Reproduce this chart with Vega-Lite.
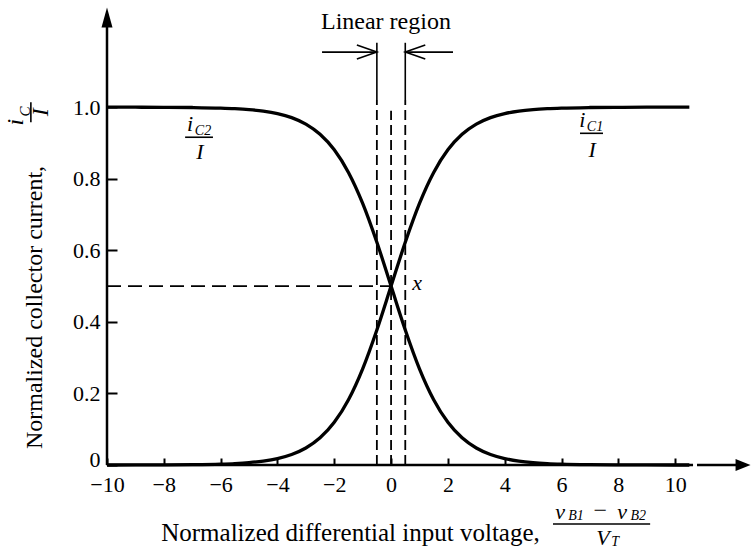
{
  "$schema": "https://vega.github.io/schema/vega-lite/v6.json",
  "width": 642,
  "height": 458,
  "autosize": {"type": "none"},
  "padding": {"left": 107, "top": 7, "right": 3, "bottom": 87},
  "background": "white",
  "config": {"view": {"stroke": null}, "font": "Liberation Serif"},
  "datasets": {
    "curves": [
      {"x": -10, "y": 0.0000, "c": "iC1"}, {"x": -9, "y": 0.0001, "c": "iC1"},
      {"x": -8, "y": 0.0003, "c": "iC1"}, {"x": -7, "y": 0.0009, "c": "iC1"},
      {"x": -6, "y": 0.0025, "c": "iC1"}, {"x": -5.5, "y": 0.0041, "c": "iC1"},
      {"x": -5, "y": 0.0067, "c": "iC1"}, {"x": -4.5, "y": 0.0110, "c": "iC1"},
      {"x": -4, "y": 0.0180, "c": "iC1"}, {"x": -3.5, "y": 0.0293, "c": "iC1"},
      {"x": -3, "y": 0.0474, "c": "iC1"}, {"x": -2.5, "y": 0.0759, "c": "iC1"},
      {"x": -2, "y": 0.1192, "c": "iC1"}, {"x": -1.5, "y": 0.1824, "c": "iC1"},
      {"x": -1, "y": 0.2689, "c": "iC1"}, {"x": -0.5, "y": 0.3775, "c": "iC1"},
      {"x": 0, "y": 0.5000, "c": "iC1"}, {"x": 0.5, "y": 0.6225, "c": "iC1"},
      {"x": 1, "y": 0.7311, "c": "iC1"}, {"x": 1.5, "y": 0.8176, "c": "iC1"},
      {"x": 2, "y": 0.8808, "c": "iC1"}, {"x": 2.5, "y": 0.9241, "c": "iC1"},
      {"x": 3, "y": 0.9526, "c": "iC1"}, {"x": 3.5, "y": 0.9707, "c": "iC1"},
      {"x": 4, "y": 0.9820, "c": "iC1"}, {"x": 4.5, "y": 0.9890, "c": "iC1"},
      {"x": 5, "y": 0.9933, "c": "iC1"}, {"x": 5.5, "y": 0.9959, "c": "iC1"},
      {"x": 6, "y": 0.9975, "c": "iC1"}, {"x": 7, "y": 0.9991, "c": "iC1"},
      {"x": 8, "y": 0.9997, "c": "iC1"}, {"x": 9, "y": 0.9999, "c": "iC1"},
      {"x": 10, "y": 1.0000, "c": "iC1"}, {"x": 10.5, "y": 1.0000, "c": "iC1"},
      {"x": -10, "y": 1.0000, "c": "iC2"}, {"x": -9, "y": 0.9999, "c": "iC2"},
      {"x": -8, "y": 0.9997, "c": "iC2"}, {"x": -7, "y": 0.9991, "c": "iC2"},
      {"x": -6, "y": 0.9975, "c": "iC2"}, {"x": -5.5, "y": 0.9959, "c": "iC2"},
      {"x": -5, "y": 0.9933, "c": "iC2"}, {"x": -4.5, "y": 0.9890, "c": "iC2"},
      {"x": -4, "y": 0.9820, "c": "iC2"}, {"x": -3.5, "y": 0.9707, "c": "iC2"},
      {"x": -3, "y": 0.9526, "c": "iC2"}, {"x": -2.5, "y": 0.9241, "c": "iC2"},
      {"x": -2, "y": 0.8808, "c": "iC2"}, {"x": -1.5, "y": 0.8176, "c": "iC2"},
      {"x": -1, "y": 0.7311, "c": "iC2"}, {"x": -0.5, "y": 0.6225, "c": "iC2"},
      {"x": 0, "y": 0.5000, "c": "iC2"}, {"x": 0.5, "y": 0.3775, "c": "iC2"},
      {"x": 1, "y": 0.2689, "c": "iC2"}, {"x": 1.5, "y": 0.1824, "c": "iC2"},
      {"x": 2, "y": 0.1192, "c": "iC2"}, {"x": 2.5, "y": 0.0759, "c": "iC2"},
      {"x": 3, "y": 0.0474, "c": "iC2"}, {"x": 3.5, "y": 0.0293, "c": "iC2"},
      {"x": 4, "y": 0.0180, "c": "iC2"}, {"x": 4.5, "y": 0.0110, "c": "iC2"},
      {"x": 5, "y": 0.0067, "c": "iC2"}, {"x": 5.5, "y": 0.0041, "c": "iC2"},
      {"x": 6, "y": 0.0025, "c": "iC2"}, {"x": 7, "y": 0.0009, "c": "iC2"},
      {"x": 8, "y": 0.0003, "c": "iC2"}, {"x": 9, "y": 0.0001, "c": "iC2"},
      {"x": 10, "y": 0.0000, "c": "iC2"}, {"x": 10.5, "y": 0.0000, "c": "iC2"}
    ],
    "axisLines": [
      {"x": -10, "y": 0, "x2": 10.63, "y2": 0},
      {"x": 10.77, "y": 0, "x2": 12.2, "y2": 0},
      {"x": -10, "y": 0, "x2": -10, "y2": 1.245}
    ],
    "dashH": [{"x": -10, "y": 0.5, "x2": 0, "y2": 0.5}],
    "dashV": [
      {"x": -0.5, "y": 0, "x2": -0.5, "y2": 1.02},
      {"x": 0, "y": 0, "x2": 0, "y2": 0.99},
      {"x": 0.5, "y": 0, "x2": 0.5, "y2": 1.02}
    ],
    "thin": [
      {"x": -0.5, "y": 1.02, "x2": -0.5, "y2": 1.18},
      {"x": 0.5, "y": 1.02, "x2": 0.5, "y2": 1.18},
      {"x": -2.43, "y": 1.154, "x2": -0.5, "y2": 1.154},
      {"x": 2.18, "y": 1.154, "x2": 0.5, "y2": 1.154},
      {"x": -7.25, "y": 0.916, "x2": -6.27, "y2": 0.916},
      {"x": 6.65, "y": 0.927, "x2": 7.46, "y2": 0.927},
      {"x": 5.70, "y": -0.165, "x2": 9.12, "y2": -0.165},
      {"x": -12.68, "y": 0.958, "x2": -12.68, "y2": 1.014}
    ],
    "headRight": [{"x": -0.5, "y": 1.154}],
    "headLeft": [{"x": 0.5, "y": 1.154}],
    "tipUp": [{"x": -10, "y": 1.251}],
    "tipRight": [{"x": 12.39, "y": 0}],
    "plain": [
      {"x": -0.18, "y": 1.237, "t": "Linear region"},
      {"x": 7.36, "y": -0.128, "t": "−"}
    ],
    "italic": [
      {"x": -7.08, "y": 0.953, "t": "i"},
      {"x": -6.73, "y": 0.874, "t": "I"},
      {"x": 6.73, "y": 0.964, "t": "i"},
      {"x": 7.08, "y": 0.88, "t": "I"},
      {"x": 0.92, "y": 0.508, "t": "x"},
      {"x": 5.95, "y": -0.131, "t": "v"},
      {"x": 8.13, "y": -0.131, "t": "v"},
      {"x": 7.46, "y": -0.203, "t": "V"}
    ],
    "subs": [
      {"x": -6.62, "y": 0.933, "t": "C2"},
      {"x": 7.18, "y": 0.944, "t": "C1"},
      {"x": 6.51, "y": -0.142, "t": "B1"},
      {"x": 8.70, "y": -0.142, "t": "B2"},
      {"x": 7.89, "y": -0.214, "t": "T"}
    ],
    "rotItalic": [
      {"x": -13.22, "y": 0.958, "t": "i"},
      {"x": -12.33, "y": 0.986, "t": "I"}
    ],
    "rotSubs": [{"x": -12.88, "y": 0.988, "t": "C"}]
  },
  "encoding": {
    "x": {
      "field": "x", "type": "quantitative",
      "scale": {"domain": [-10, 12.6], "nice": false, "zero": false},
      "axis": {
        "values": [-10, -8, -6, -4, -2, 0, 2, 4, 6, 8, 10],
        "format": "d", "domain": false, "grid": false,
        "tickSize": -7, "tickWidth": 2, "tickColor": "black",
        "labelFont": "Liberation Serif", "labelFontSize": 22, "labelColor": "black",
        "labelPadding": 16, "labelFlush": false, "labelOverlap": false,
        "title": "Normalized differential input voltage,",
        "titleFont": "Liberation Serif", "titleFontSize": 25, "titleFontWeight": "normal",
        "titleColor": "black", "titleX": 243, "titleY": 75,
        "titleAlign": "center", "titleBaseline": "alphabetic"
      }
    },
    "y": {
      "field": "y", "type": "quantitative",
      "scale": {"domain": [0, 1.28], "nice": false, "zero": false},
      "axis": {
        "values": [0, 0.2, 0.4, 0.6, 0.8, 1.0],
        "labelExpr": "datum.value == 0 ? '0' : format(datum.value, '.1f')",
        "domain": false, "grid": false,
        "tickSize": -10, "tickWidth": 2, "tickColor": "black",
        "labelFont": "Liberation Serif", "labelFontSize": 22, "labelColor": "black",
        "labelPadding": 17, "labelFlush": false, "labelOverlap": false,
        "labelOffset": {"condition": {"test": "datum.value == 0", "value": -6}, "value": 0},
        "title": "Normalized collector current,",
        "titleFont": "Liberation Serif", "titleFontSize": 24, "titleFontWeight": "normal",
        "titleColor": "black", "titleX": -73, "titleY": 300, "titleAngle": 270,
        "titleAlign": "center", "titleBaseline": "middle"
      }
    }
  },
  "layer": [
    {
      "data": {"name": "curves"},
      "mark": {"type": "line", "color": "black", "strokeWidth": 3.3, "interpolate": "monotone"},
      "encoding": {"detail": {"field": "c"}}
    },
    {
      "data": {"name": "axisLines"},
      "mark": {"type": "rule", "color": "black", "strokeWidth": 2.5},
      "encoding": {"x2": {"field": "x2"}, "y2": {"field": "y2"}}
    },
    {
      "data": {"name": "dashH"},
      "mark": {"type": "rule", "color": "black", "strokeWidth": 1.8, "strokeDash": [14, 7]},
      "encoding": {"x2": {"field": "x2"}, "y2": {"field": "y2"}}
    },
    {
      "data": {"name": "dashV"},
      "mark": {"type": "rule", "color": "black", "strokeWidth": 1.8, "strokeDash": [10, 5]},
      "encoding": {"x2": {"field": "x2"}, "y2": {"field": "y2"}}
    },
    {
      "data": {"name": "thin"},
      "mark": {"type": "rule", "color": "black", "strokeWidth": 1.6},
      "encoding": {"x2": {"field": "x2"}, "y2": {"field": "y2"}}
    },
    {
      "data": {"name": "headRight"},
      "mark": {"type": "point", "shape": "M-1,-0.35L0,0L-1,0.35", "filled": false, "stroke": "black", "strokeWidth": 1.6, "size": 1600, "opacity": 1}
    },
    {
      "data": {"name": "headLeft"},
      "mark": {"type": "point", "shape": "M1,-0.35L0,0L1,0.35", "filled": false, "stroke": "black", "strokeWidth": 1.6, "size": 1600, "opacity": 1}
    },
    {
      "data": {"name": "tipUp"},
      "mark": {"type": "point", "shape": "M0,-1L0.55,1L-0.55,1Z", "filled": true, "color": "black", "size": 400, "opacity": 1}
    },
    {
      "data": {"name": "tipRight"},
      "mark": {"type": "point", "shape": "M1,0L-1,0.8L-1,-0.8Z", "filled": true, "color": "black", "size": 225, "opacity": 1}
    },
    {
      "data": {"name": "plain"},
      "mark": {"type": "text", "font": "Liberation Serif", "fontSize": 24, "color": "black", "align": "center", "baseline": "middle"},
      "encoding": {"text": {"field": "t"}}
    },
    {
      "data": {"name": "italic"},
      "mark": {"type": "text", "font": "Liberation Serif", "fontSize": 22, "fontStyle": "italic", "color": "black", "align": "center", "baseline": "middle"},
      "encoding": {"text": {"field": "t"}}
    },
    {
      "data": {"name": "subs"},
      "mark": {"type": "text", "font": "Liberation Serif", "fontSize": 14, "fontStyle": "italic", "color": "black", "align": "center", "baseline": "middle"},
      "encoding": {"text": {"field": "t"}}
    },
    {
      "data": {"name": "rotItalic"},
      "mark": {"type": "text", "font": "Liberation Serif", "fontSize": 24, "fontStyle": "italic", "color": "black", "align": "center", "baseline": "middle", "angle": 270},
      "encoding": {"text": {"field": "t"}}
    },
    {
      "data": {"name": "rotSubs"},
      "mark": {"type": "text", "font": "Liberation Serif", "fontSize": 15, "fontStyle": "italic", "color": "black", "align": "center", "baseline": "middle", "angle": 270},
      "encoding": {"text": {"field": "t"}}
    }
  ]
}
